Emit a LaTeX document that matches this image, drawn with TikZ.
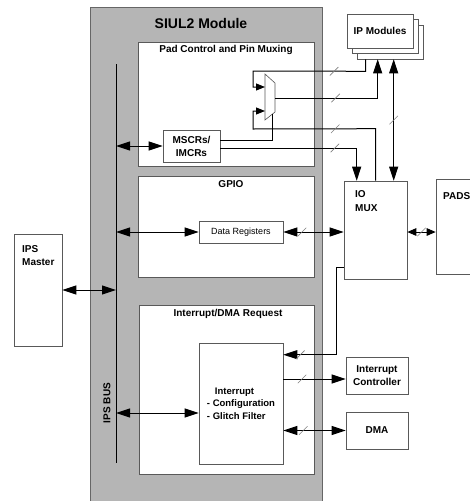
\documentclass[tikz,border=0pt]{standalone}
\usepackage{fontspec}
\setmainfont{Liberation Sans}
\usetikzlibrary{arrows.meta,positioning,calc}

\begin{document}
\begin{tikzpicture}[x=1pt, y=-1pt, >={Triangle[length=14pt,width=9pt]},
  box/.style={draw=black!65, fill=white, line width=0.6pt, inner sep=0pt, align=center, font=\bfseries\fontsize{10}{13}\selectfont},
  lbl/.style={inner sep=0pt, align=left, font=\bfseries\fontsize{10}{13}\selectfont},
  conn/.style={line width=1pt},
  small/.style={-{Triangle[length=9pt,width=7pt]}},
  slash/.style={draw=gray, line width=0.6pt, inner sep=0pt, minimum width=12pt, minimum height=0pt, rotate=45}]
\useasboundingbox (0,0) rectangle (470,501);
\clip (0,0) rectangle (470,501);
\node[box, fill=gray!58, draw=black!60, minimum width=232pt, minimum height=499pt] (siul) at (206,256.5) {};
\node[lbl, font=\bfseries\fontsize{14}{16}\selectfont] (siultitle) at (201,23) {SIUL2 Module};
\node[box, minimum width=176pt, minimum height=124pt] (pad) at (226,104) {};
\node[lbl] (padtitle) at (226,50) {Pad Control and Pin Muxing};
\node[box, minimum width=176pt, minimum height=101pt] (gpio) at (226,226.5) {};
\node[lbl] (gpiotitle) at (231,184) {GPIO};
\node[box, minimum width=175pt, minimum height=169pt] (irq) at (226.5,389.5) {};
\node[lbl] (irqtitle) at (228,313.5) {Interrupt/DMA Request};
\node[box, minimum width=57pt, minimum height=32pt] (mscr) at (191.5,146) {MSCRs/\\IMCRs};
\node[box, minimum width=84pt, minimum height=22pt, font=\fontsize{9}{11}\selectfont] (datareg) at (241,232) {Data Registers};
\node[box, minimum width=84pt, minimum height=121pt, align=left, font=\bfseries\fontsize{9.5}{12.5}\selectfont] (intcfg) at (241,403.5) {\hspace*{8pt}Interrupt\\- Configuration\\- Glitch Filter};
\coordinate (bustop) at (116,64);
\coordinate (busbot) at (116,463);
\draw[conn] (bustop) -- (busbot);
\node[lbl, rotate=90] (buslabel) at (107,403) {IPS BUS};
\node[box, minimum width=48pt, minimum height=112pt] (ipsm) at (38,290) {};
\node[lbl, anchor=north west] (ipsmtext) at (22,245.5) {IPS\\Master};
\draw[box] (265,74) -- (275,83) -- (275,112) -- (265,120) -- cycle;
\coordinate (muxin1) at (265,87);
\coordinate (muxin2) at (265,111);
\coordinate (muxout) at (275,98);
\coordinate (muxsel) at (272,114.4);
\node[box, minimum width=66pt, minimum height=34pt] (ipback) at (390,42) {};
\node[box, minimum width=66pt, minimum height=34pt] (ipmid) at (385,36.5) {};
\node[box, minimum width=66pt, minimum height=34pt] (ipmod) at (380,31) {IP Modules};
\node[box, minimum width=63pt, minimum height=98pt] (iomux) at (375.5,230) {};
\node[lbl, anchor=north west, font=\bfseries\fontsize{10}{14}\selectfont] (iomuxtext) at (355,190.5) {IO\\MUX};
\node[box, minimum width=60pt, minimum height=95pt] (pads) at (466,226.5) {};
\node[lbl, anchor=north west] (padstext) at (443,192.5) {PADS};
\node[box, minimum width=62pt, minimum height=37pt] (intctl) at (377,375.5) {Interrupt\\Controller};
\node[box, minimum width=62pt, minimum height=37pt] (dma) at (377,430.5) {DMA};
\coordinate (ctlin) at ([yshift=-3.5pt]intctl.west);
\draw[conn,<->] (ipsm.east) -- (ipsm.east -| bustop);
\draw[conn,<->] (mscr.west -| bustop) -- (mscr.west);
\draw[conn,<->] (datareg.west -| bustop) -- (datareg.west);
\draw[conn,<->] ([yshift=-9.5pt]intcfg.west -| bustop) -- ([yshift=-9.5pt]intcfg.west);
\draw[conn,small] ($(ipback.south west)+(9,0)$) -- ++(0,12) -- node[slash,pos=0.28]{} (253,71) |- (muxin1);
\draw[conn,small] ($(iomux.north west)+(32,0)$) -- ++(0,-52) -- node[slash,pos=0.33]{} (253,129) |- (muxin2);
\draw[conn,->] (muxout) -- node[slash,pos=0.59]{} (muxout -| {$(ipback.south west)+(21,0)$}) -- ($(ipback.south west)+(21,0)$);
\draw[conn] (muxsel) |- ([yshift=6pt]mscr.east);
\draw[conn,->] ([yshift=-2pt]mscr.east) -| node[slash,pos=0.42]{} ($(iomux.north west)+(13,0)$);
\draw[conn,<->] ($(ipback.south west)+(37,0)$) -- node[slash,pos=0.5]{} ($(iomux.north west)+(50,0)$);
\draw[conn,<->] (datareg.east) -- node[slash,pos=0.31]{} (iomux.west |- datareg.east);
\draw[conn,{Triangle[length=9pt,width=7.5pt]}-{Triangle[length=9pt,width=7.5pt]}] (iomux.east |- datareg.east) -- node[slash]{} (pads.west |- datareg.east);
\draw[conn,->] ($(iomux.south west)+(0,-12)$) -- ++(-7,0) |- node[slash,pos=0.84]{} ($(intcfg.north east)+(0,12)$);
\draw[conn,->] (intcfg.east |- ctlin) -- node[slash,pos=0.3]{} (ctlin);
\draw[conn,<->] (intcfg.east |- dma.west) -- node[slash,pos=0.32]{} (dma.west);
\end{tikzpicture}
\end{document}
